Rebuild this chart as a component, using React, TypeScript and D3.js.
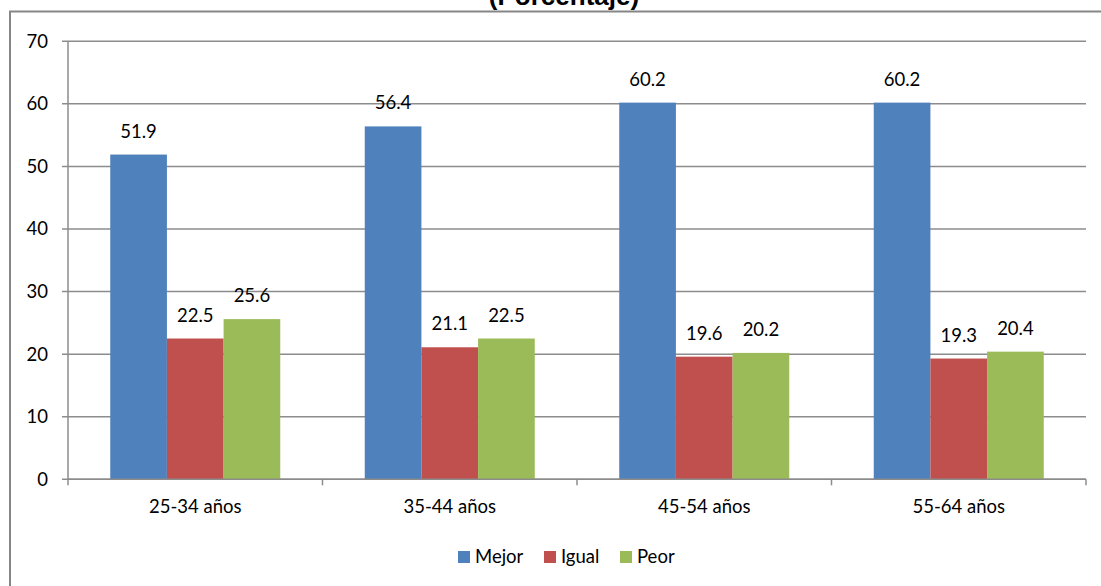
import React from "react";
import * as d3 from "d3";

const categories = ["25-34 años", "35-44 años", "45-54 años", "55-64 años"];
const seriesNames = ["Mejor", "Igual", "Peor"];
const mejor = [51.9, 56.4, 60.2, 60.2];
const igual = [22.5, 21.1, 19.6, 19.3];
const peor = [25.6, 22.5, 20.2, 20.4];
const yTicks = [0, 10, 20, 30, 40, 50, 60, 70];
const colors = ["#4F81BD", "#C0504D", "#9BBB59"];

const W = 1101;
const H = 586;
const FONT = "Lato, 'Open Sans', sans-serif";
const FS = 18.5;

export default function App() {
  const series = [mejor, igual, peor];
  const left = 68;
  const right = 1086;
  const top = 41.3;
  const bottom = 479.3;

  const x = d3.scaleBand<string>().domain(categories).range([left, right]).padding(0);
  const groupW = x.bandwidth() * 0.668;
  const inner = d3
    .scaleBand<string>()
    .domain(seriesNames)
    .range([(x.bandwidth() - groupW) / 2, (x.bandwidth() + groupW) / 2])
    .padding(0);
  const y = d3.scaleLinear().domain([0, 70]).range([bottom, top]);

  const gridColor = "#8C8C8C";

  const legendItems = [
    { name: "Mejor", x: 458 },
    { name: "Igual", x: 544 },
    { name: "Peor", x: 620 },
  ];

  return (
    <svg
      width={W}
      height={H}
      style={{ position: "absolute", left: 0, top: 0, background: "#fff" }}
      fontFamily={FONT}
    >
      {/* chart frame */}
      <rect x={10} y={11.5} width={W + 20} height={H + 20} fill="none" stroke="#868686" strokeWidth={2} />

      {/* title */}
      <text
        x={564}
        y={4.5}
        textAnchor="middle"
        fontFamily="'Liberation Sans', Arial, sans-serif"
        fontWeight="bold"
        fontSize={26}
        fill="#000"
      >
        (Porcentaje)
      </text>

      {/* gridlines and y ticks */}
      {yTicks.map((t) => (
        <g key={t}>
          <line x1={left - 6} x2={right} y1={y(t)} y2={y(t)} stroke={gridColor} strokeWidth={1.5} />
          <text x={48} y={y(t)} dy="0.35em" textAnchor="end" fontSize={FS} fill="#000">
            {t}
          </text>
        </g>
      ))}

      {/* bars */}
      {categories.map((c, ci) => (
        <g key={c} transform={`translate(${x(c)},0)`}>
          {series.map((vals, si) => {
            const v = vals[ci];
            const bx = inner(seriesNames[si])!;
            return (
              <g key={si}>
                <rect x={bx} y={y(v)} width={inner.bandwidth()} height={y(0) - y(v)} fill={colors[si]} />
                <text
                  x={bx + inner.bandwidth() / 2}
                  y={y(v) - 17}
                  textAnchor="middle"
                  fontSize={FS}
                  fill="#000"
                >
                  {v.toFixed(1)}
                </text>
              </g>
            );
          })}
        </g>
      ))}

      {/* axes */}
      <line x1={left} x2={left} y1={top} y2={bottom} stroke={gridColor} strokeWidth={1.5} />
      <line x1={left} x2={right} y1={bottom} y2={bottom} stroke={gridColor} strokeWidth={1.5} />
      {categories.map((c) => (
        <line key={c} x1={x(c)!} x2={x(c)!} y1={bottom} y2={bottom + 6} stroke={gridColor} strokeWidth={1.5} />
      ))}
      <line x1={right} x2={right} y1={bottom} y2={bottom + 6} stroke={gridColor} strokeWidth={1.5} />

      {/* category labels */}
      {categories.map((c) => (
        <text
          key={c}
          x={x(c)! + x.bandwidth() / 2}
          y={507}
          dy="0.35em"
          textAnchor="middle"
          fontSize={FS}
          fill="#000"
        >
          {c}
        </text>
      ))}

      {/* legend */}
      {legendItems.map((it, i) => (
        <g key={it.name}>
          <rect x={it.x} y={551} width={12} height={12} fill={colors[i]} />
          <text x={it.x + 17} y={557} dy="0.35em" fontSize={FS} fill="#000">
            {it.name}
          </text>
        </g>
      ))}
    </svg>
  );
}
